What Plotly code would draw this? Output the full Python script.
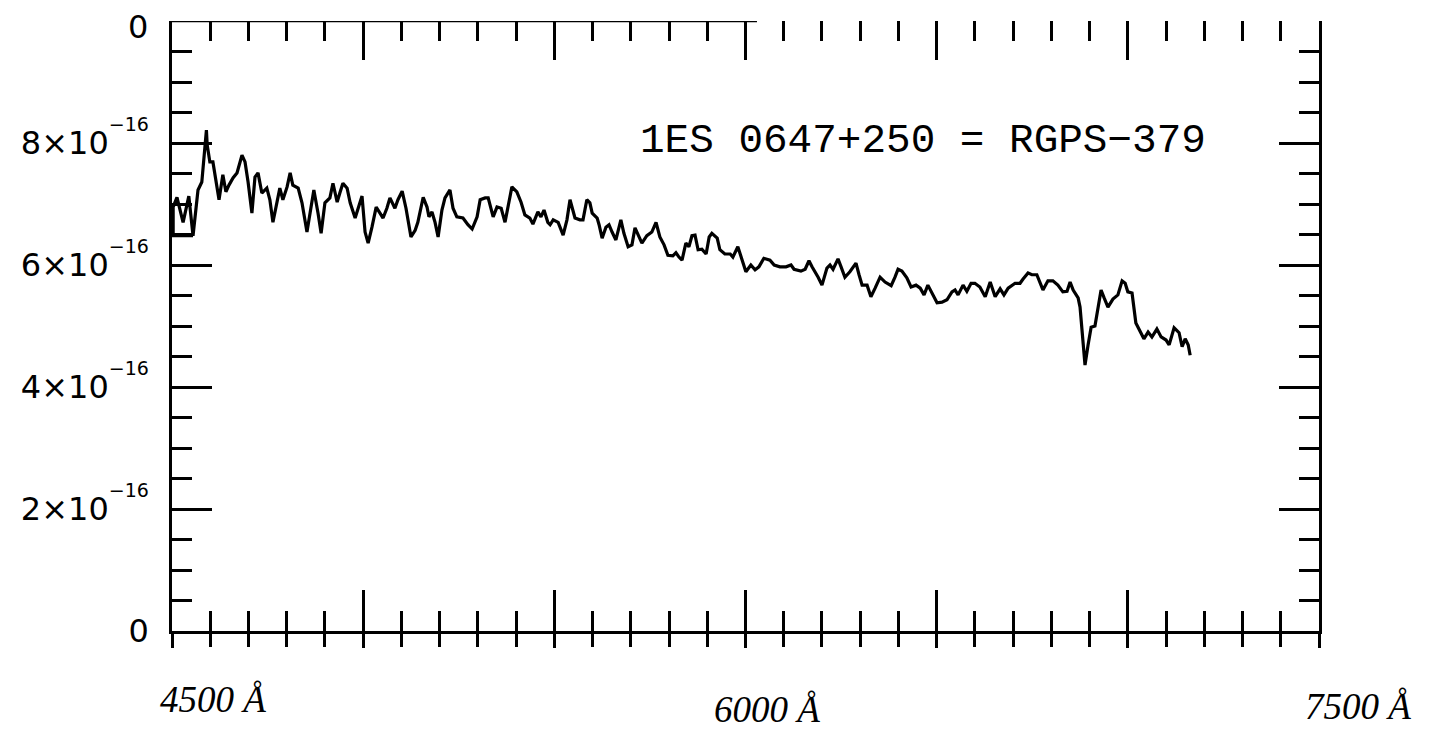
import plotly.graph_objects as go

# Wavelength (Angstrom) and flux (units of 1e-16)
wavelength = [4555, 4503, 4503, 4513, 4529, 4544, 4555, 4568, 4578, 4590, 4592, 4599, 4607, 4612,
              4623, 4633, 4641, 4649, 4660, 4670, 4683, 4691, 4699, 4709, 4717, 4725, 4735, 4748,
              4756, 4764, 4775, 4782, 4790, 4801, 4809, 4816, 4830, 4840, 4853, 4861, 4871, 4882,
              4890, 4900, 4913, 4921, 4932, 4939, 4947, 4958, 4966, 4979, 4987, 4997, 5005, 5013,
              5023, 5034, 5044, 5052, 5062, 5070, 5083, 5091, 5102, 5112, 5125, 5136, 5143, 5157,
              5167, 5172, 5180, 5188, 5196, 5206, 5214, 5227, 5235, 5245, 5261, 5274, 5285, 5298,
              5306, 5319, 5327, 5340, 5350, 5361, 5371, 5379, 5389, 5402, 5413, 5423, 5436, 5444,
              5457, 5465, 5473, 5483, 5489, 5497, 5510, 5523, 5533, 5541, 5546, 5554, 5567, 5575,
              5585, 5593, 5599, 5612, 5617, 5625, 5635, 5643, 5651, 5661, 5674, 5682, 5693, 5703,
              5711, 5719, 5729, 5742, 5755, 5766, 5776, 5787, 5797, 5810, 5818, 5826, 5834, 5844,
              5852, 5860, 5868, 5876, 5886, 5897, 5905, 5912, 5926, 5933, 5946, 5960, 5967, 5980,
              5991, 6001, 6014, 6025, 6035, 6048, 6064, 6075, 6090, 6106, 6119, 6127, 6145, 6156,
              6166, 6174, 6190, 6200, 6213, 6221, 6229, 6242, 6250, 6260, 6273, 6289, 6297, 6305,
              6318, 6328, 6339, 6352, 6365, 6381, 6391, 6399, 6409, 6422, 6433, 6446, 6457, 6467,
              6477, 6488, 6501, 6514, 6527, 6540, 6548, 6556, 6569, 6579, 6590, 6600, 6613, 6627,
              6640, 6653, 6666, 6676, 6687, 6705, 6718, 6726, 6739, 6749, 6762, 6773, 6778, 6791,
              6804, 6817, 6830, 6841, 6849, 6857, 6870, 6875, 6880, 6888, 6896, 6904, 6914, 6922,
              6930, 6938, 6948, 6961, 6974, 6985, 6993, 7000, 7011, 7021, 7029, 7042, 7053, 7063,
              7076, 7087, 7100, 7108, 7121, 7134, 7142, 7150, 7158, 7163]
flux = [6.48, 6.48, 6.95, 7.11, 6.70, 7.13, 6.48, 7.23, 7.36, 8.21, 7.97, 7.69, 7.69, 7.51,
        7.07, 7.48, 7.20, 7.31, 7.43, 7.51, 7.80, 7.69, 7.36, 6.85, 7.44, 7.51, 7.18, 7.26,
        7.07, 6.70, 7.03, 7.26, 7.07, 7.28, 7.51, 7.31, 7.26, 7.02, 6.54, 6.85, 7.23, 6.85,
        6.52, 7.02, 7.10, 7.34, 7.03, 7.18, 7.34, 7.26, 7.02, 6.77, 6.93, 7.13, 6.54, 6.36,
        6.62, 6.95, 6.85, 6.77, 6.93, 7.10, 6.93, 7.07, 7.21, 6.93, 6.46, 6.57, 6.70, 7.11,
        6.95, 6.79, 6.87, 6.70, 6.46, 6.90, 7.10, 7.23, 6.93, 6.79, 6.77, 6.66, 6.59, 6.79,
        7.07, 7.10, 7.10, 6.79, 6.95, 6.93, 6.70, 6.98, 7.28, 7.20, 7.03, 6.82, 6.77, 6.67,
        6.87, 6.79, 6.90, 6.70, 6.66, 6.74, 6.70, 6.49, 6.74, 7.07, 6.95, 6.77, 6.74, 6.74,
        7.07, 7.02, 6.85, 6.77, 6.66, 6.44, 6.62, 6.66, 6.54, 6.41, 6.74, 6.52, 6.30, 6.33,
        6.61, 6.49, 6.36, 6.48, 6.54, 6.70, 6.46, 6.33, 6.16, 6.15, 6.20, 6.13, 6.08, 6.36,
        6.30, 6.48, 6.49, 6.25, 6.26, 6.18, 6.46, 6.52, 6.44, 6.25, 6.18, 6.18, 6.13, 6.30,
        6.08, 5.89, 6.00, 5.92, 5.97, 6.11, 6.08, 6.00, 5.97, 5.97, 6.00, 5.93, 5.90, 5.93,
        6.07, 5.97, 5.80, 5.67, 5.95, 6.00, 5.93, 6.10, 5.97, 5.80, 5.89, 6.03, 5.84, 5.67,
        5.67, 5.48, 5.62, 5.80, 5.72, 5.66, 5.80, 5.93, 5.90, 5.79, 5.64, 5.67, 5.62, 5.51,
        5.67, 5.54, 5.38, 5.39, 5.43, 5.56, 5.59, 5.51, 5.67, 5.57, 5.70, 5.70, 5.64, 5.48,
        5.72, 5.48, 5.61, 5.51, 5.62, 5.70, 5.70, 5.77, 5.87, 5.84, 5.84, 5.67, 5.59, 5.74,
        5.74, 5.67, 5.56, 5.57, 5.72, 5.59, 5.46, 5.31, 4.93, 4.36, 4.69, 4.98, 5.00, 5.30,
        5.59, 5.46, 5.31, 5.44, 5.51, 5.74, 5.70, 5.56, 5.54, 5.05, 4.95, 4.79, 4.90, 4.82,
        4.95, 4.82, 4.77, 4.69, 4.97, 4.89, 4.66, 4.79, 4.69, 4.52]

y_tick_vals = [0, 2, 4, 6, 8, 10]
y_tick_text = (["0"]
               + [f"{v}×10<sup><sup><span style='font-size:19px'>−16</span></sup></sup>"
                  for v in [2, 4, 6, 8]]
               + [""])
top_label = "0"   # label at the top of the y axis (partly lost in the scan)
title_text = "1ES 0647+250 = RGPS−379"
x_labels = ["4500 Å", "6000 Å", "7500 Å"]
x_label_px = [0.036, 0.519, 1.034]     # paper fractions
x_label_py = [-0.113, -0.128, -0.124]

X_RANGE = [4500, 7500]
Y_RANGE = [0, 10]
TOP_LINE_END = 6030  # the scanned top frame line fades out here

fig = go.Figure()
fig.add_trace(go.Scatter(x=wavelength, y=flux, mode="lines",
                         line=dict(color="black", width=3.2), hoverinfo="skip",
                         showlegend=False))
# invisible copies so the overlay axes get subplots
for ax in ["x2", "x3"]:
    fig.add_trace(go.Scatter(x=wavelength, y=flux, mode="lines", xaxis=ax,
                             line=dict(color="rgba(0,0,0,0)", width=0), hoverinfo="skip",
                             showlegend=False))

common_x = dict(range=X_RANGE, dtick=500, tick0=4500, showgrid=False, zeroline=False,
                showticklabels=False, tickwidth=2.5, tickcolor="black", automargin=False)

fig.update_layout(
    width=1438, height=727,
    margin=dict(l=164, r=127, t=13, b=104, autoexpand=False),
    paper_bgcolor="white", plot_bgcolor="white",
    xaxis=dict(**common_x, showline=True, linecolor="black", linewidth=2.5, mirror=False,
               ticks="inside", ticklen=41,
               minor=dict(dtick=100, tick0=4500, ticks="inside", ticklen=20,
                          tickwidth=2.5, tickcolor="black", showgrid=False)),
    xaxis2=dict(**common_x, overlaying="x", side="bottom", anchor="y", showline=False,
                ticks="outside", ticklen=16,
                minor=dict(dtick=100, tick0=4500, ticks="outside", ticklen=15,
                           tickwidth=2.5, tickcolor="black", showgrid=False)),
    xaxis3=dict(**common_x, overlaying="x", side="top", anchor="y", showline=False,
                ticks="inside", ticklen=39,
                minor=dict(dtick=100, tick0=4500, ticks="inside", ticklen=20,
                           tickwidth=2.5, tickcolor="black", showgrid=False)),
    yaxis=dict(range=Y_RANGE, showgrid=False, zeroline=False, showline=True,
               linecolor="black", linewidth=2.5, mirror="ticks", automargin=False,
               ticks="inside", ticklen=40, tickwidth=2.5, tickcolor="black",
               tickvals=y_tick_vals, ticktext=y_tick_text, ticklabelstandoff=14,
               ticklabeloverflow="allow",
               tickfont=dict(family="DejaVu Sans", size=32, color="black"),
               minor=dict(dtick=0.5, tick0=0, ticks="inside", ticklen=20,
                          tickwidth=2.5, tickcolor="black", showgrid=False)),
)

# partial top frame line (faded in the scan beyond TOP_LINE_END)
fig.add_shape(type="line", xref="x", yref="y", x0=X_RANGE[0], x1=TOP_LINE_END,
              y0=Y_RANGE[1], y1=Y_RANGE[1], line=dict(color="black", width=2.5))

# top y label, kept fully inside the page
fig.add_annotation(x=-0.019, y=0.99, xref="paper", yref="paper", text=top_label,
                   showarrow=False, xanchor="right", yanchor="middle",
                   font=dict(family="DejaVu Sans", size=32, color="black"))

fig.add_annotation(x=6463, y=8.03, xref="x", yref="y", text=title_text, showarrow=False,
                   xanchor="center", yanchor="middle",
                   font=dict(family="Liberation Mono", size=41, color="black"))

for txt, xp, yp in zip(x_labels, x_label_px, x_label_py):
    fig.add_annotation(x=xp, y=yp, xref="paper", yref="paper", text=f"<i>{txt}</i>",
                       showarrow=False, xanchor="center", yanchor="middle",
                       font=dict(family="Liberation Serif", size=37, color="black"))

fig.write_html("out.html")
